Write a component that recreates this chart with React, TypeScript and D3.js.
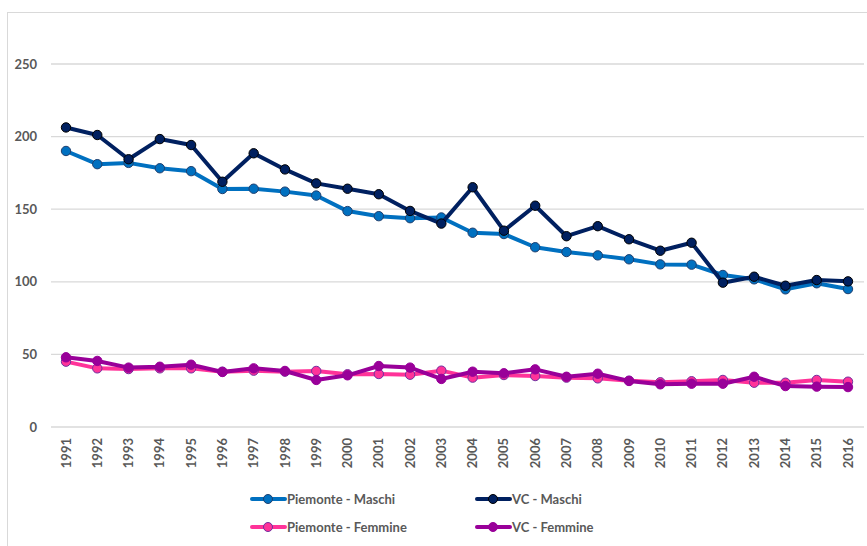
import React from "react";
import * as d3 from "d3";

const years = [
  "1991","1992","1993","1994","1995","1996","1997","1998","1999","2000","2001","2002","2003",
  "2004","2005","2006","2007","2008","2009","2010","2011","2012","2013","2014","2015","2016",
];
const piemonteMaschi = [190.1,181,181.9,178.2,176.2,163.9,164.1,162.1,159.4,148.7,145.2,143.8,144.3,
  133.8,132.9,123.8,120.5,118.2,115.5,112,111.8,104.7,101.7,94.8,99,95];
const vcMaschi = [206.3,201.1,184.4,198.3,194.2,168.9,188.5,177.4,167.8,164.1,160.3,148.8,140.1,
  165.1,135.2,152.4,131.4,138.3,129.3,121.4,126.9,99.4,103.5,97.3,101.2,100.3];
const piemonteFemmine = [45,40.4,39.9,40.4,40.4,38.1,38.8,38.1,38.6,36.3,36.5,36,38.8,
  34,35.8,35.1,34,33.5,31.9,30.8,31.5,32.4,30.5,30.5,32.4,31.2];
const vcFemmine = [48,45.5,40.9,41.5,42.9,37.9,40.4,38.6,32.4,35.6,42,40.9,33.1,
  38.1,37,39.7,34.6,36.7,31.7,29.4,29.8,29.8,34.6,28.2,27.8,27.5];
const yTicks = [0, 50, 100, 150, 200, 250];

const seriesDefs = [
  { name: "Piemonte - Maschi", values: piemonteMaschi, line: "#0070C0", fill: "#0070C0", stroke: "#1F3F6E" },
  { name: "VC - Maschi", values: vcMaschi, line: "#002060", fill: "#002060", stroke: "#000000" },
  { name: "Piemonte - Femmine", values: piemonteFemmine, line: "#FF3399", fill: "#FF3399", stroke: "#7030A0" },
  { name: "VC - Femmine", values: vcFemmine, line: "#990099", fill: "#990099", stroke: "#990099" },
];

const W = 867, H = 546;
const font = "Lato, 'Open Sans', sans-serif";
const textColor = "#595959";

export default function App() {
  const x = d3.scalePoint<string>().domain(years).range([66, 848]);
  const y = d3.scaleLinear().domain([0, 250]).range([427, 64]);
  const line = d3.line<number>().x((_, i) => x(years[i]) as number).y((d) => y(d));

  const legendPos = [
    { x: 252, y: 499 },
    { x: 477, y: 499 },
    { x: 252, y: 527 },
    { x: 477, y: 527 },
  ];

  return (
    <svg width={W} height={H} style={{ position: "absolute", left: 0, top: 0, background: "#fff" }}>
      <rect x={7.5} y={12.5} width={W + 20} height={H + 20} fill="#fff" stroke="#D9D9D9" strokeWidth={1} />
      {yTicks.map((t) => (
        <g key={t}>
          <line x1={51} x2={864} y1={y(t)} y2={y(t)} stroke="#D9D9D9" strokeWidth={1.3} />
          <text x={37} y={y(t)} dy="0.35em" textAnchor="end" fontFamily={font} fontWeight={700} fontSize={13} fill={textColor}>
            {t}
          </text>
        </g>
      ))}
      {years.map((yr) => (
        <text
          key={yr}
          transform={`translate(${x(yr)},438) rotate(-90)`}
          textAnchor="end"
          dy="0.35em"
          fontFamily={font}
          fontWeight={700}
          fontSize={13}
          fill={textColor}
        >
          {yr}
        </text>
      ))}
      {seriesDefs.map((s) => (
        <g key={s.name}>
          <path d={line(s.values) || ""} fill="none" stroke={s.line} strokeWidth={4} strokeLinejoin="round" strokeLinecap="round" />
          {s.values.map((v, i) => (
            <circle key={i} cx={x(years[i])} cy={y(v)} r={4.7} fill={s.fill} stroke={s.stroke} strokeWidth={1} />
          ))}
        </g>
      ))}
      {seriesDefs.map((s, i) => {
        const p = legendPos[i];
        return (
          <g key={s.name}>
            <line x1={p.x} x2={p.x + 33} y1={p.y} y2={p.y} stroke={s.line} strokeWidth={4} strokeLinecap="round" />
            <circle cx={p.x + 16} cy={p.y} r={4.5} fill={s.fill} stroke={s.stroke} strokeWidth={1} />
            <text x={p.x + 35} y={p.y} dy="0.35em" fontFamily={font} fontWeight={700} fontSize={13} fill={textColor}>
              {s.name}
            </text>
          </g>
        );
      })}
    </svg>
  );
}
